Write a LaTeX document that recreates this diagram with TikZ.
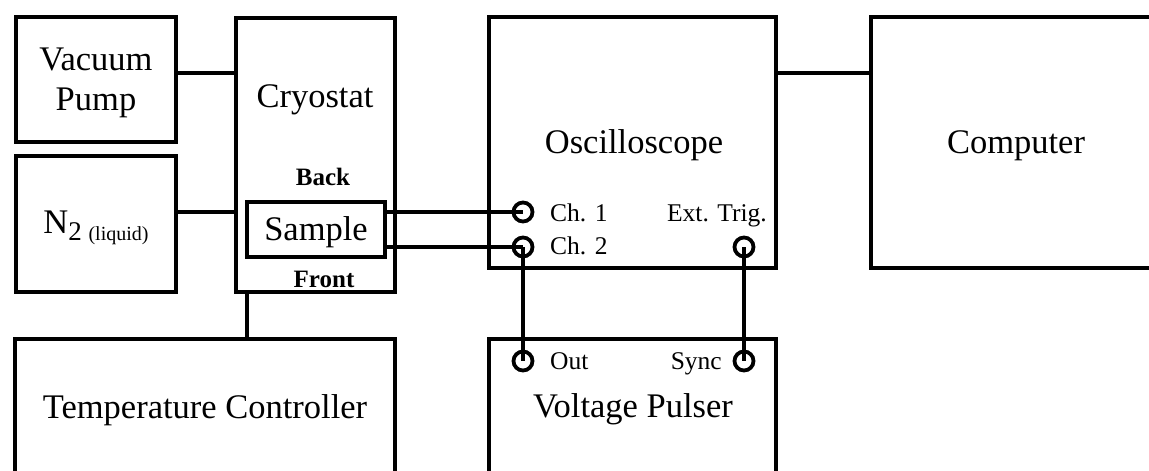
\documentclass[tikz,border=0pt]{standalone}
\usepackage{fontspec}
\setmainfont{Liberation Serif}
\begin{document}
\begin{tikzpicture}[x=1pt,y=-1pt,
  box/.style={draw,line width=3.8pt,inner sep=0pt,outer sep=0pt},
  port/.style={draw,circle,line width=3.8pt,inner sep=0pt,minimum size=19pt},
  wire/.style={line width=3.8pt},
  big/.style={font=\fontsize{34.5}{40}\selectfont,inner sep=0pt,anchor=base},
  small/.style={font=\fontsize{25.5}{30}\selectfont,inner sep=0pt,anchor=base},
  smallb/.style={font=\fontsize{25}{30}\selectfont\bfseries,inner sep=0pt,anchor=base}]
\useasboundingbox (0,0) rectangle (1149,471);
\clip (0,0) rectangle (1149,471);
% boxes
\node[box,minimum width=160pt,minimum height=125pt] (vac) at (96,79.5) {};
\node[box,minimum width=160pt,minimum height=136pt] (n2) at (96,224) {};
\node[box,minimum width=159pt,minimum height=274pt] (cryo) at (315.5,155) {};
\node[box,minimum width=138pt,minimum height=55pt] (sample) at (316,229.5) {};
\node[box,minimum width=287pt,minimum height=251pt] (osc) at (632.5,142.5) {};
\node[box,minimum width=299pt,minimum height=251pt] (comp) at (1020.5,142.5) {};
\node[box,minimum width=380pt,minimum height=181pt] (temp) at (205,429.5) {};
\node[box,minimum width=287pt,minimum height=181pt] (pulser) at (632.5,429.5) {};
% texts
\node[big] (tvac) at (96,70) {Vacuum};
\node[big] (tpump) at (96,110) {Pump};
\node[big,anchor=base] (tn2) at (96,233) {N\raisebox{-7pt}{\fontsize{27}{30}\selectfont 2 \fontsize{20}{24}\selectfont(liquid)}};
\node[big] (tcryo) at (315,107) {Cryostat};
\node[smallb] (tback) at (323,185) {Back};
\node[big] (tsample) at (316,240) {Sample};
\node[smallb] (tfront) at (324,287) {Front};
\node[big] (tosc) at (634,153) {Oscilloscope};
\node[big] (tcomp) at (1016,153) {Computer};
\node[big] (tpulse) at (633,417) {Voltage Pulser};
\node[big] (ttemp) at (205,418) {Temperature Controller};
\node[small,anchor=base west] (tch1) at (550,221) {Ch. 1};
\node[small,anchor=base west] (tch2) at (550,254) {Ch. 2};
\node[small,anchor=base east] (ttrig) at (767,221) {Ext. Trig.};
\node[small,anchor=base west] (tout) at (550,369) {Out};
\node[small,anchor=base east] (tsync) at (722,369) {Sync};
% ports
\node[port] (ch1) at (523,212) {};
\node[port] (ch2) at (523,247) {};
\node[port] (trig) at (744,247) {};
\node[port] (out) at (523,361) {};
\node[port] (sync) at (744,361) {};
\coordinate (ya) at (0,73);
% connectors
\draw[wire] (vac.east |- ya) -- (cryo.west |- ya);
\draw[wire] (osc.east |- ya) -- (comp.west |- ya);
\draw[wire] (n2.east |- ch1) -- (cryo.west |- ch1);
\draw[wire] (sample.east |- ch1) -- (ch1.center);
\draw[wire] (sample.east |- ch2) -- (ch2.center);
\draw[wire] (ch2.center) -- (out.center);
\draw[wire] (trig.center) -- (sync.center);
\draw[wire] (sample.west |- cryo.south) -- (sample.west |- temp.north);
\end{tikzpicture}
\end{document}
